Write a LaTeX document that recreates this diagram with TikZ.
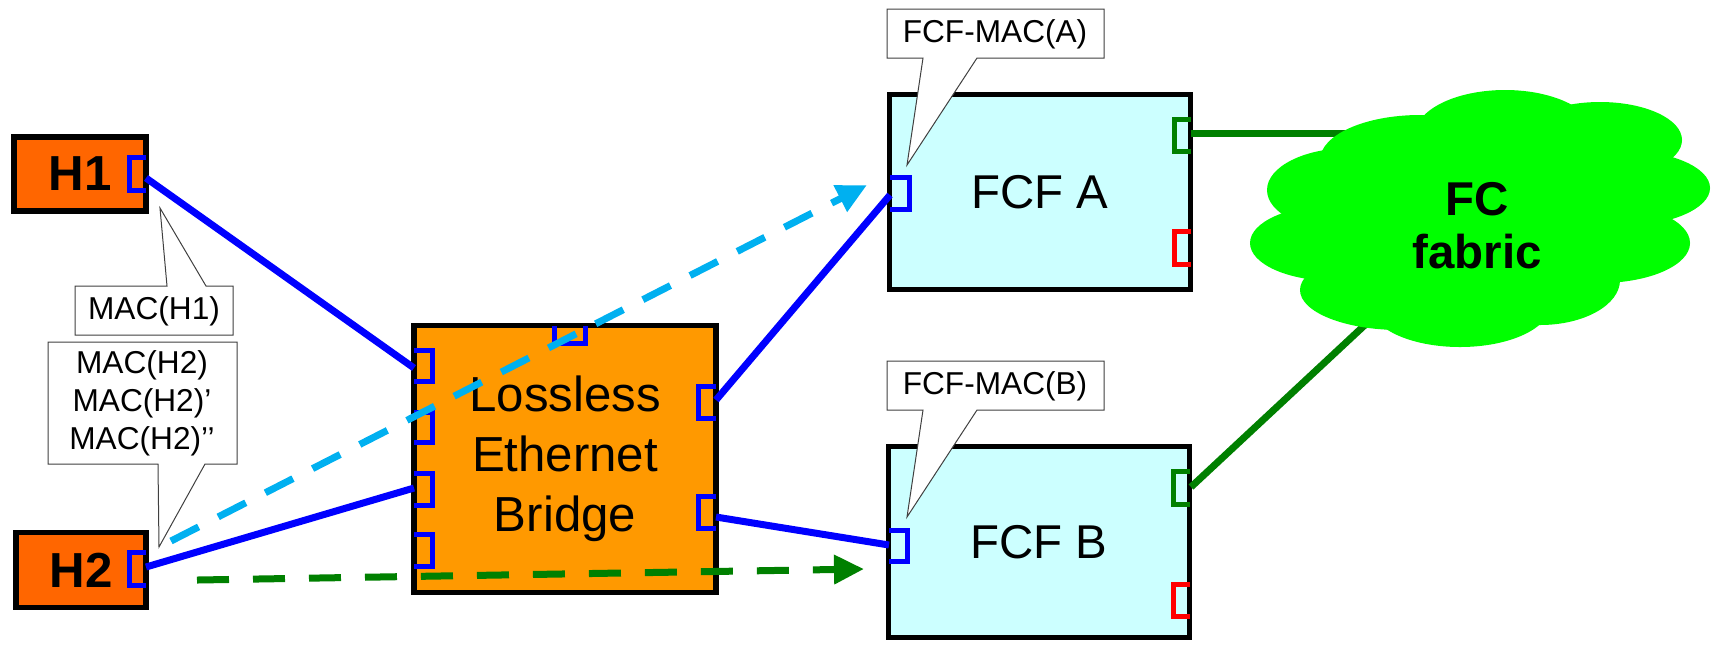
\documentclass[tikz,border=0pt]{standalone}
\usepackage{fontspec}
\setmainfont{Liberation Sans}
\usetikzlibrary{arrows.meta}
\definecolor{hostorange}{HTML}{FF6600}
\definecolor{bridgeorange}{HTML}{FF9900}
\definecolor{fcfcyan}{HTML}{CCFFFF}
\definecolor{linkgreen}{HTML}{008000}
\definecolor{fabricgreen}{HTML}{00FF00}
\definecolor{pathcyan}{HTML}{00B0F0}
\begin{document}
\begin{tikzpicture}[x=0.1mm,y=-0.1mm,
		box/.style={draw,line width=0.55mm,inner sep=0pt},
		port/.style={line width=0.5mm},
		link/.style={line width=0.7mm,blue},
		fclink/.style={line width=0.7mm,linkgreen},
		tip/.style={line width=0.1mm,draw=black!75,fill=white},
		flow/.style={line width=0.7mm,-{Triangle[length=3mm,width=2.8mm]}}]
	\useasboundingbox (0,0) rectangle (1711,645);
	\coordinate (h1p) at (146,178);
	\coordinate (h2p) at (146,567);
	\coordinate (brl1) at (414,368);
	\coordinate (brl3) at (414,488);
	\coordinate (brr1) at (716,400);
	\coordinate (brr2) at (716,517);
	\coordinate (fap) at (890,195);
	\coordinate (fbp) at (889,545);
	\coordinate (fag) at (1191,133);
	\coordinate (fbg) at (1191,487);
	\coordinate (fab1) at (1350,133);
	\coordinate (fab2) at (1367,323);
	\coordinate (s1) at (171,541);
	\coordinate (e1) at (867,185);
	\coordinate (s2) at (197,580);
	\coordinate (e2) at (864,569);
	\node[box,fill=hostorange,minimum width=13.2mm,minimum height=7.4mm,font=\fontsize{14}{17}\selectfont\bfseries] (H1) at (80,174) {H1};
	\node[box,fill=hostorange,minimum width=13mm,minimum height=7.5mm,font=\fontsize{14}{17}\selectfont\bfseries] (H2) at (81,570) {H2};
	\node[box,fill=bridgeorange,minimum width=30.2mm,minimum height=26.7mm,align=center,font=\fontsize{14}{17}\selectfont] (bridge) at (565,459) {Lossless\\Ethernet\\Bridge};
	\node[box,fill=fcfcyan,minimum width=30.1mm,minimum height=19.5mm,font=\fontsize{13.5}{16}\selectfont] (fcfA) at (1040,192) {FCF A};
	\node[box,fill=fcfcyan,minimum width=30.1mm,minimum height=19.1mm,font=\fontsize{13.5}{16}\selectfont] (fcfB) at (1039,542) {FCF B};
	\draw[link] (h1p) -- (brl1);
	\draw[link] (h2p) -- (brl3);
	\draw[link] (brr1) -- (fap);
	\draw[link] (brr2) -- (fbp);
	\draw[fclink] (fag) -- (fab1);
	\draw[fclink] (fbg) -- (fab2);
	\draw[port,blue] (146,157) -- (129,157) -- (129,190) -- (146,190);
	\draw[port,blue] (146,552) -- (129,552) -- (129,585) -- (146,585);
	\draw[port,blue] (414,350) -- (432,350) -- (432,381) -- (414,381);
	\draw[port,blue] (414,412) -- (432,412) -- (432,442) -- (414,442);
	\draw[port,blue] (414,473) -- (432,473) -- (432,505) -- (414,505);
	\draw[port,blue] (414,534) -- (432,534) -- (432,566) -- (414,566);
	\draw[port,blue] (554,326) -- (554,343) -- (585,343) -- (585,326);
	\draw[port,blue] (716,386) -- (698,386) -- (698,418) -- (716,418);
	\draw[port,blue] (716,496) -- (698,496) -- (698,528) -- (716,528);
	\draw[port,blue] (890,177) -- (909,177) -- (909,209) -- (890,209);
	\draw[port,blue] (889,530) -- (907,530) -- (907,561) -- (889,561);
	\draw[port,linkgreen] (1191,119) -- (1174,119) -- (1174,151) -- (1191,151);
	\draw[port,red] (1191,231) -- (1174,231) -- (1174,264) -- (1191,264);
	\draw[port,linkgreen] (1190,471) -- (1173,471) -- (1173,504) -- (1190,504);
	\draw[port,red] (1190,584) -- (1173,584) -- (1173,616) -- (1190,616);
	\draw[flow,pathcyan,dash pattern=on 3.1mm off 2.2mm] (s1) -- (e1);
	\draw[flow,linkgreen,dash pattern=on 3.2mm off 2.4mm] (s2) -- (e2);
	\fill[fabricgreen] (1480,220) ellipse (150 and 80);
	\fill[fabricgreen] (1505,135) ellipse (90 and 45);
	\fill[fabricgreen] (1600,140) ellipse (82 and 38);
	\fill[fabricgreen] (1420,160) ellipse (100 and 45);
	\fill[fabricgreen] (1350,190) ellipse (83 and 42);
	\fill[fabricgreen] (1620,188) ellipse (90 and 38);
	\fill[fabricgreen] (1335,243) ellipse (85 and 38);
	\fill[fabricgreen] (1600,243) ellipse (90 and 40);
	\fill[fabricgreen] (1400,290) ellipse (100 and 40);
	\fill[fabricgreen] (1460,305) ellipse (90 and 42);
	\fill[fabricgreen] (1540,280) ellipse (80 and 45);
	\node[align=center,font=\fontsize{13.5}{15}\selectfont\bfseries] (fabric) at (1477,226) {FC\\fabric};
	\draw[tip] (75,286) -- (167,286) -- (160,208) -- (206,286) -- (233,286) -- (233,335) -- (75,335) -- cycle;
	\node[font=\fontsize{9}{10.8}\selectfont] (macH1) at (154,311) {MAC(H1)};
	\draw[tip] (48,342) -- (237,342) -- (237,464) -- (205,464) -- (159,547) -- (158,464) -- (48,464) -- cycle;
	\node[align=center,font=\fontsize{9}{10.8}\selectfont] (macH2) at (142,403) {MAC(H2)\\MAC(H2)’\\MAC(H2)’’};
	\draw[tip] (887,9) -- (1104,9) -- (1104,58) -- (977,58) -- (907,165) -- (923,58) -- (887,58) -- cycle;
	\node[font=\fontsize{9}{10.8}\selectfont] (macA) at (995,34) {FCF-MAC(A)};
	\draw[tip] (887,361) -- (1104,361) -- (1104,410) -- (977,410) -- (907,517) -- (923,410) -- (887,410) -- cycle;
	\node[font=\fontsize{9}{10.8}\selectfont] (macB) at (995,386) {FCF-MAC(B)};
\end{tikzpicture}
\end{document}
